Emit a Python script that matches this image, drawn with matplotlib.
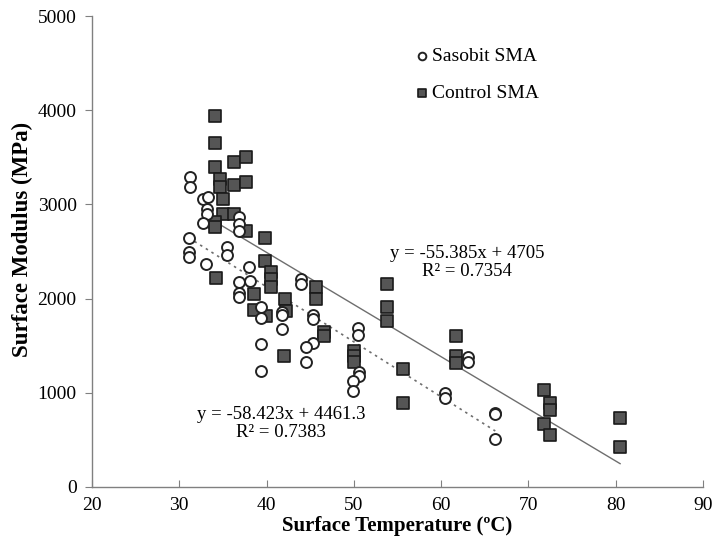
import matplotlib.pyplot as plt
import numpy as np

plt.rcParams['font.family'] = ['Liberation Serif', 'DejaVu Serif']

# Sasobit SMA (open circles)
sasobit_temp = [31.2, 31.2, 31.1, 31.1, 31.1, 32.7, 33.3, 33.2, 33.2, 32.7,
                33.1, 35.5, 35.5, 36.9, 36.9, 36.9, 36.9, 36.9, 36.9, 38.0,
                38.1, 39.4, 39.4, 39.4, 39.4, 41.8, 41.8, 41.8, 44.0, 44.0,
                45.3, 45.3, 45.3, 44.5, 44.5, 50.5, 50.5, 50.6, 50.6, 49.9,
                49.9, 60.4, 60.4, 63.1, 63.1, 66.2, 66.2, 66.2]
sasobit_mod = [3288, 3181, 2640, 2498, 2438, 3057, 3075, 2948, 2895, 2806,
               2367, 2551, 2463, 2870, 2789, 2718, 2173, 2063, 2020, 2339,
               2190, 1908, 1791, 1515, 1235, 1861, 1826, 1674, 2205, 2155,
               1826, 1780, 1532, 1490, 1330, 1684, 1610, 1224, 1178, 1125,
               1019, 1001, 948, 1384, 1330, 782, 770, 506]

# Control SMA (filled squares)
control_temp = [34.1, 34.1, 34.1, 36.3, 37.6, 34.7, 34.7, 36.3, 37.6, 35.0,
                35.0, 36.3, 34.1, 34.1, 37.6, 39.8, 39.8, 40.5, 40.5, 40.5,
                34.2, 38.6, 38.6, 39.9, 42.1, 42.2, 42.0, 45.7, 45.7, 46.6,
                46.6, 53.8, 53.8, 53.8, 55.6, 55.6, 50.0, 50.0, 50.0, 61.7,
                61.7, 61.7, 71.8, 72.5, 72.5, 71.8, 72.5, 80.5, 80.5]
control_mod = [3942, 3655, 3394, 3450, 3507, 3273, 3181, 3206, 3241, 3057,
               2895, 2895, 2816, 2757, 2718, 2640, 2399, 2286, 2205, 2120,
               2216, 2049, 1879, 1815, 1996, 1872, 1394, 2120, 1993, 1649,
               1603, 2155, 1908, 1766, 1253, 895, 1444, 1390, 1324, 1606,
               1391, 1320, 1030, 888, 817, 669, 552, 736, 428]

# trendlines as reported on the chart
control_fit = (-55.385, 4705)
sasobit_fit = (-58.423, 4461.3)
control_range = [34.1, 80.5]
sasobit_range = [31.1, 66.2]

fig = plt.figure(figsize=(7.13, 5.52), dpi=100)
ax = fig.add_axes([0.129, 0.118, 0.857, 0.853])

xs = np.array(control_range)
ax.plot(xs, control_fit[0] * xs + control_fit[1], color='#6e6e6e', lw=1.0, zorder=1)
xs = np.array(sasobit_range)
ax.plot(xs, sasobit_fit[0] * xs + sasobit_fit[1], color='#6e6e6e', lw=1.2,
        linestyle=(0, (1.5, 2.5)), zorder=1)

ax.scatter(sasobit_temp, sasobit_mod, s=62, marker='o', facecolor='white',
           edgecolor='#222222', linewidth=1.4, zorder=3, label='Sasobit SMA')
ax.scatter(control_temp, control_mod, s=64, marker='s', facecolor='#555555',
           edgecolor='#1a1a1a', linewidth=1.2, zorder=2, label='Control SMA')

ax.annotate('y = -55.385x + 4705\nR² = 0.7354', xy=(63.0, 2385), ha='center',
            va='center', fontsize=13.5, linespacing=1.1)
ax.annotate('y = -58.423x + 4461.3\nR² = 0.7383', xy=(41.7, 670), ha='center',
            va='center', fontsize=13.5, linespacing=1.1)

ax.set_xlim(20, 90)
ax.set_ylim(0, 5000)
ax.set_xticks(range(20, 91, 10))
ax.set_yticks(range(0, 5001, 1000))
for s in ['top', 'right']:
    ax.spines[s].set_visible(False)
for s in ['left', 'bottom']:
    ax.spines[s].set_color('#808080')
    ax.spines[s].set_linewidth(1.0)
ax.tick_params(axis='x', direction='in', length=5, color='#808080', labelsize=14, pad=7)
ax.tick_params(axis='y', direction='out', length=5, color='#808080', labelsize=14, pad=6)

ax.set_xlabel('Surface Temperature (ºC)', fontsize=15, fontweight='bold', labelpad=2)
ax.set_ylabel('Surface Modulus (MPa)', fontsize=16.5, fontweight='bold')
ax.yaxis.set_label_coords(-0.097, 0.525)

ax.legend(loc='upper left', bbox_to_anchor=(0.512, 0.95), frameon=False, fontsize=14,
          markerscale=0.7, handletextpad=0.0, labelspacing=1.0, handlelength=1.0,
          borderaxespad=0)

fig.savefig('out.png', dpi=100)
